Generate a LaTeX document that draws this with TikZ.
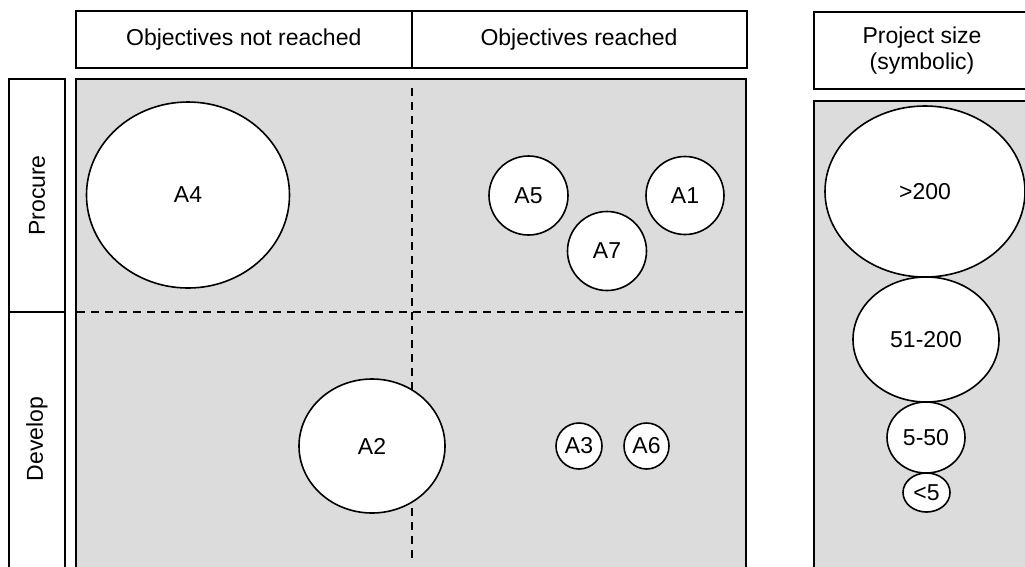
\documentclass[tikz,border=0pt]{standalone}
\usepackage{fontspec}
\setmainfont{Liberation Sans}
\usetikzlibrary{shapes.geometric}
\definecolor{panelgrey}{HTML}{DCDCDC}
\begin{document}
\begin{tikzpicture}[x=1pt,y=-1pt,
  lbl/.style={font=\fontsize{23}{26}\selectfont},
  frame/.style={draw=black, line width=2pt, inner sep=0pt, outer sep=0pt, lbl},
  panel/.style={frame, fill=panelgrey},
  bubble/.style={ellipse, draw=black, line width=1.6pt, fill=white, inner sep=0pt, lbl},
  divider/.style={draw=black, line width=2pt, dash pattern=on 8pt off 6pt}
]
\useasboundingbox (0,0) rectangle (1025,566);
\clip (0,0) rectangle (1025,566);

% column headers
\node[frame, minimum width=335.5, minimum height=56.5] (hnot) at (243.75,39.25) {Objectives not reached};
\node[frame, minimum width=335, minimum height=56.5] (hyes) at (579,39.25) {Objectives reached};

% row headers
\node[frame, minimum width=56, minimum height=233] (rproc) at (37,195.5) {};
\node[frame, minimum width=56, minimum height=288] (rdev) at (37,456) {};
\node[lbl, rotate=90] (tproc) at (rproc.center) {Procure};
\node[lbl, rotate=90] (tdev) at (37,439) {Develop};

% quadrant panel
\node[panel, minimum width=670, minimum height=521] (grid) at (411,339.5) {};
\coordinate (hl) at (77,312);
\coordinate (hr) at (746,312);
\coordinate (vt) at (411.5,88);
\coordinate (vb) at (411.5,560);
\draw[divider] (hl) -- (hr);
\draw[divider] (vt) -- (vb);

% projects
\node[bubble, minimum width=203, minimum height=186] (a4) at (188,195) {A4};
\node[bubble, minimum width=79, minimum height=79] (a5) at (528.5,195.5) {A5};
\node[bubble, minimum width=78, minimum height=78] (a1) at (685,195.5) {A1};
\node[bubble, minimum width=79, minimum height=79] (a7) at (607,251) {A7};
\node[bubble, minimum width=146, minimum height=134] (a2) at (372,446) {A2};
\node[bubble, minimum width=46, minimum height=46] (a3) at (579,446) {A3};
\node[bubble, minimum width=45, minimum height=46] (a6) at (646.5,446) {A6};

% size legend
\node[frame, align=center, minimum width=216, minimum height=77.3] (lhdr) at (922,50.35) {Project size\\(symbolic)};
\node[panel, minimum width=216, minimum height=500] (lpanel) at (922,350.7) {};
\node[bubble, minimum width=200, minimum height=171] (s1) at (925,191.5) {>200};
\node[bubble, minimum width=146, minimum height=125] (s2) at (926,339.5) {51-200};
\node[bubble, minimum width=78, minimum height=71] (s3) at (926,437.5) {5-50};
\node[bubble, minimum width=47, minimum height=39] (s4) at (926.5,492.5) {<5};
\end{tikzpicture}
\end{document}
